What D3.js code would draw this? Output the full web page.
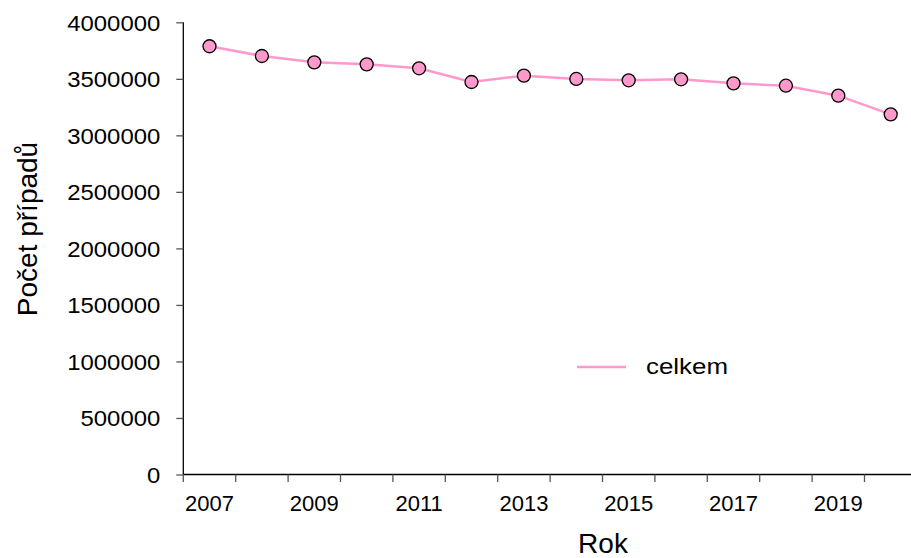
<!DOCTYPE html>
<html><head><meta charset="utf-8">
<script src="https://cdn.jsdelivr.net/npm/d3@7"></script>
<style>body{margin:0;background:#fff}svg{display:block}text{font-family:"Liberation Sans",Arial,sans-serif;fill:#000}</style>
</head><body>
<svg id="c" width="911" height="558"></svg>
<script>
const years = [2007,2008,2009,2010,2011,2012,2013,2014,2015,2016,2017,2018,2019,2020];
const celkem = [3788000,3702000,3646000,3628000,3593000,3472000,3528000,3499000,3487000,3496000,3460000,3439000,3351000,3186000];
const yTicks = [0,500000,1000000,1500000,2000000,2500000,3000000,3500000,4000000];
const xLabels = [2007,2009,2011,2013,2015,2017,2019];
const seriesName = "celkem";

(function(){
const svg = d3.select("#c");
const pL = 183.3, pR = 916.9, pT = 22.3, pB = 474.5;
const x = d3.scaleBand().domain(years).range([pL, pR]).padding(0);
const y = d3.scaleLinear().domain([0, 4000000]).range([pB, pT]);

// y axis
const ya = svg.append("g").attr("transform", `translate(${pL},0)`)
  .call(d3.axisLeft(y).tickValues(yTicks).tickSize(7).tickPadding(16).tickFormat(d3.format("d")));
ya.select(".domain").attr("stroke", "#000").attr("stroke-width", 1.3).attr("d", `M0,${pT}V${pB}`);
ya.selectAll(".tick line").attr("stroke", "#555").attr("stroke-width", 1.3);
ya.selectAll(".tick text").attr("font-size", 22).attr("font-family", "Liberation Sans, Arial, sans-serif")
  .attr("dy", "0.35em")
  .each(function(d){ const n = String(d).length; d3.select(this).attr("textLength", n*13.3).attr("lengthAdjust","spacingAndGlyphs"); });

// x axis
const xa = svg.append("g").attr("transform", `translate(0,${pB})`);
xa.append("line").attr("x1", pL).attr("x2", 911).attr("stroke", "#000").attr("stroke-width", 1.3);
xa.selectAll("line.tk").data(years).join("line").attr("class","tk")
  .attr("x1", d => x(d)).attr("x2", d => x(d)).attr("y1", 0).attr("y2", 7.5)
  .attr("stroke", "#555").attr("stroke-width", 1.3);
xa.selectAll("text.lb").data(xLabels).join("text").attr("class","lb")
  .attr("x", d => x(d) + x.bandwidth()/2).attr("y", 36.5).attr("text-anchor","middle")
  .attr("font-size", 22).text(d => d);

// line
const line = d3.line().x((d,i) => x(years[i]) + x.bandwidth()/2).y(d => y(d));
svg.append("path").datum(celkem).attr("d", line).attr("fill","none")
  .attr("stroke", "#ff99cc").attr("stroke-width", 2.5);
svg.selectAll("circle.pt").data(celkem).join("circle").attr("class","pt")
  .attr("cx", (d,i) => x(years[i]) + x.bandwidth()/2).attr("cy", d => y(d)).attr("r", 6.5)
  .attr("fill", "#ff99cc").attr("stroke", "#000").attr("stroke-width", 1.3);

// legend
svg.append("line").attr("x1", 577).attr("x2", 626).attr("y1", 367).attr("y2", 367)
  .attr("stroke", "#ff99cc").attr("stroke-width", 2.5);
svg.append("text").attr("x", 646).attr("y", 374).attr("font-size", 22)
  .attr("textLength", 82).attr("lengthAdjust","spacingAndGlyphs").text(seriesName);

// titles
svg.append("text").attr("x", 603).attr("y", 553).attr("text-anchor","middle").attr("font-size", 28).text("Rok");
svg.append("text").attr("transform", "translate(37,229) rotate(-90)").attr("text-anchor","middle")
  .attr("font-size", 28).text("Počet případů");
})();
</script>
</body></html>
